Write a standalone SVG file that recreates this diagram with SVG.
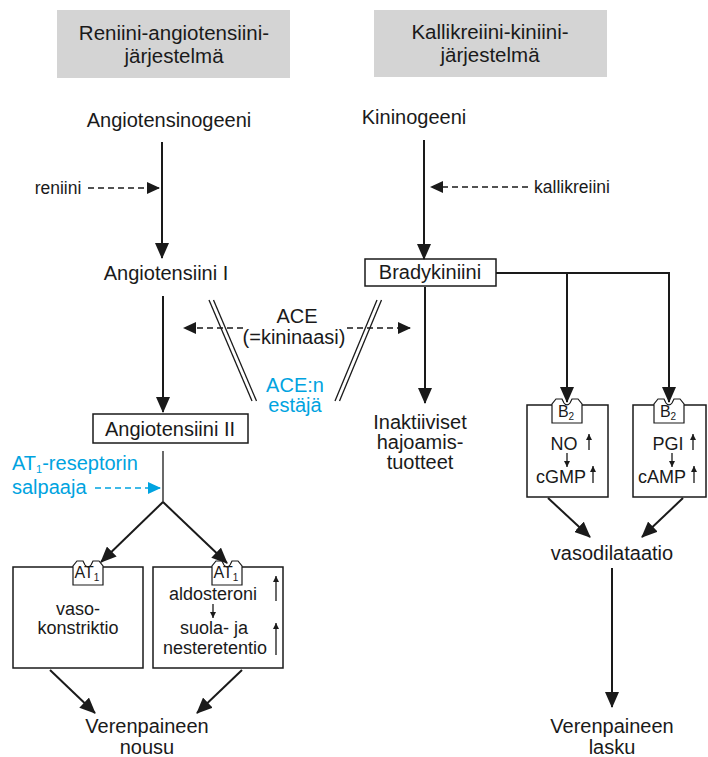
<svg xmlns="http://www.w3.org/2000/svg" width="708" height="757" viewBox="0 0 708 757">
<defs>
<style>
text{font-family:"Liberation Sans",Arial,sans-serif;fill:#1a1a1a;text-anchor:middle}
.m{font-size:20px}
.h{font-size:20.5px}
.s{font-size:17.5px}
.b{font-size:18px}
.r{font-size:16px}
.blue{fill:#00a3e0}
.ln{stroke:#1a1a1a;stroke-width:2;fill:none}
.thin{stroke:#1a1a1a;stroke-width:1.3;fill:none}
.box{fill:#fff;stroke:#1a1a1a;stroke-width:1.5}
.dash{stroke:#1a1a1a;stroke-width:1.6;stroke-dasharray:6 4;fill:none}
.bdash{stroke:#00a3e0;stroke-width:1.6;stroke-dasharray:6 4;fill:none}
.rec{fill:#fff;stroke:#1a1a1a;stroke-width:1.2}
.hdr{fill:#d4d4d4}
</style>
<marker id="ah" markerUnits="userSpaceOnUse" markerWidth="16" markerHeight="14" refX="15" refY="7" orient="auto"><path d="M0,0 L16,7 L0,14 z" fill="#1a1a1a"/></marker>
<marker id="ad" markerUnits="userSpaceOnUse" markerWidth="13" markerHeight="12" refX="12" refY="6" orient="auto"><path d="M0,0 L13,6 L0,12 z" fill="#1a1a1a"/></marker>
<marker id="ab" markerUnits="userSpaceOnUse" markerWidth="13" markerHeight="12" refX="12" refY="6" orient="auto"><path d="M0,0 L13,6 L0,12 z" fill="#00a3e0"/></marker>
<marker id="as" markerUnits="userSpaceOnUse" markerWidth="6" markerHeight="6" refX="6" refY="3" orient="auto"><path d="M0,0 L6,3 L0,6 z" fill="#1a1a1a"/></marker>
<path id="rcp" d="M0,25 V6 L4,1 H10 L12,5 Q15,9 18,5 L20,1 H26 L30,6 V25 Z"/>
</defs>

<g id="header-ras">
<rect class="hdr" x="57" y="10" width="233" height="68"/>
<text class="h" x="174" y="40">Reniini-angiotensiini-</text>
<text class="h" x="174" y="63">järjestelmä</text>
</g>
<g id="header-kks">
<rect class="hdr" x="374" y="10" width="233" height="67"/>
<text class="h" x="490" y="39">Kallikreiini-kiniini-</text>
<text class="h" x="490" y="62">järjestelmä</text>
</g>

<g id="angiotensinogeeni"><text class="m" x="169" y="127">Angiotensinogeeni</text></g>
<g id="kininogeeni"><text class="m" x="414" y="124">Kininogeeni</text></g>
<g id="reniini"><text class="s" x="58" y="194">reniini</text></g>
<g id="kallikreiini"><text class="s" x="572" y="193">kallikreiini</text></g>
<g id="angiotensiini-1"><text class="m" x="166" y="280">Angiotensiini I</text></g>
<g id="bradykiniini">
<rect class="box" x="365" y="259" width="131" height="27"/>
<text class="m" x="430" y="279">Bradykiniini</text>
</g>
<g id="ace">
<text class="m" x="297" y="323">ACE</text>
<text class="m" x="294" y="344">(=kininaasi)</text>
</g>
<g id="ace-estaja">
<text class="m blue" x="295" y="392">ACE:n</text>
<text class="m blue" x="295" y="412">estäjä</text>
</g>
<g id="angiotensiini-2">
<rect class="box" x="93" y="414" width="155" height="29"/>
<text class="m" x="170" y="436">Angiotensiini II</text>
</g>
<g id="inaktiiviset">
<text class="m" x="420" y="429">Inaktiiviset</text>
<text class="m" x="420" y="449">hajoamis-</text>
<text class="m" x="420" y="469">tuotteet</text>
</g>
<g id="at1-salpaaja">
<text class="m blue" x="12" y="470" style="text-anchor:start">AT<tspan font-size="11" dy="3">1</tspan><tspan dy="-3">-reseptorin</tspan></text>
<text class="m blue" x="12" y="494" style="text-anchor:start">salpaaja</text>
</g>

<g id="vasokonstriktio">
<rect class="box" x="13" y="567" width="130" height="101"/>
<use href="#rcp" x="73" y="560" class="rec"/>
<text class="r" x="87" y="578">AT<tspan font-size="10" dy="3">1</tspan></text>
<text class="b" x="78" y="615">vaso-</text>
<text class="b" x="78" y="634">konstriktio</text>
</g>
<g id="aldosteroni">
<rect class="box" x="153" y="567" width="130" height="101"/>
<use href="#rcp" x="212" y="560" class="rec"/>
<text class="r" x="226" y="578">AT<tspan font-size="10" dy="3">1</tspan></text>
<text class="b" x="213" y="600">aldosteroni</text>
<text class="b" x="214" y="634">suola- ja</text>
<text class="b" x="215" y="654">nesteretentio</text>
<line class="thin" x1="213" y1="604" x2="213" y2="618" marker-end="url(#as)"/>
<line class="thin" x1="276" y1="601" x2="276" y2="576" marker-end="url(#as)"/>
<line class="thin" x1="276" y1="655" x2="276" y2="623" marker-end="url(#as)"/>
</g>

<g id="no-cgmp">
<rect class="box" x="527" y="405" width="81" height="92"/>
<use href="#rcp" x="552" y="398" class="rec"/>
<text class="r" x="566" y="417">B<tspan font-size="10" dy="3">2</tspan></text>
<text class="b" x="564" y="450">NO</text>
<text class="b" x="561" y="483">cGMP</text>
<line class="thin" x1="567" y1="453" x2="567" y2="467" marker-end="url(#as)"/>
<line class="thin" x1="589" y1="450" x2="589" y2="434" marker-end="url(#as)"/>
<line class="thin" x1="593" y1="483" x2="593" y2="466" marker-end="url(#as)"/>
</g>
<g id="pgi-camp">
<rect class="box" x="633" y="405" width="73" height="92"/>
<use href="#rcp" x="654" y="398" class="rec"/>
<text class="r" x="668" y="417">B<tspan font-size="10" dy="3">2</tspan></text>
<text class="b" x="668" y="450">PGI</text>
<text class="b" x="662" y="483">cAMP</text>
<line class="thin" x1="672" y1="453" x2="672" y2="467" marker-end="url(#as)"/>
<line class="thin" x1="693" y1="450" x2="693" y2="434" marker-end="url(#as)"/>
<line class="thin" x1="694" y1="483" x2="694" y2="466" marker-end="url(#as)"/>
</g>

<g id="vasodilataatio"><text class="m" x="612" y="560">vasodilataatio</text></g>
<g id="nousu">
<text class="m" x="147" y="733">Verenpaineen</text>
<text class="m" x="147" y="754">nousu</text>
</g>
<g id="lasku">
<text class="m" x="612" y="733">Verenpaineen</text>
<text class="m" x="612" y="754">lasku</text>
</g>

<g id="connectors">
<line class="ln" x1="162" y1="142" x2="162" y2="258" marker-end="url(#ah)"/>
<line class="dash" x1="88" y1="188" x2="159" y2="188" marker-end="url(#ad)"/>
<line class="ln" x1="424" y1="140" x2="424" y2="259" marker-end="url(#ah)"/>
<line class="dash" x1="528" y1="187" x2="431" y2="187" marker-end="url(#ad)"/>
<line class="ln" x1="163" y1="296" x2="163" y2="412" marker-end="url(#ah)"/>
<line class="dash" x1="243" y1="328" x2="184" y2="328" marker-end="url(#ad)"/>
<line class="dash" x1="347" y1="328" x2="410" y2="328" marker-end="url(#ad)"/>
<line class="thin" x1="209" y1="300" x2="252" y2="401"/>
<line class="thin" x1="213.5" y1="300" x2="256.5" y2="401"/>
<line class="thin" x1="377" y1="300" x2="335" y2="401"/>
<line class="thin" x1="381.5" y1="300" x2="339.5" y2="401"/>
<line class="ln" x1="425" y1="287" x2="425" y2="403" marker-end="url(#ah)"/>
<polyline class="ln" points="496,273 669,273 669,402" marker-end="url(#ah)"/>
<line class="ln" x1="567" y1="273" x2="567" y2="402" marker-end="url(#ah)"/>
<line class="thin" x1="163" y1="451" x2="163" y2="502"/>
<line class="bdash" x1="95" y1="488" x2="160" y2="488" marker-end="url(#ab)"/>
<line class="ln" x1="163" y1="502" x2="101" y2="562" marker-end="url(#ah)"/>
<line class="ln" x1="163" y1="502" x2="227" y2="563" marker-end="url(#ah)"/>
<line class="ln" x1="50" y1="670" x2="95" y2="713" marker-end="url(#ah)"/>
<line class="ln" x1="242" y1="670" x2="197" y2="713" marker-end="url(#ah)"/>
<line class="ln" x1="548" y1="498" x2="590" y2="537" marker-end="url(#ah)"/>
<line class="ln" x1="683" y1="498" x2="642" y2="537" marker-end="url(#ah)"/>
<line class="ln" x1="612" y1="568" x2="612" y2="707" marker-end="url(#ah)"/>
</g>
</svg>
